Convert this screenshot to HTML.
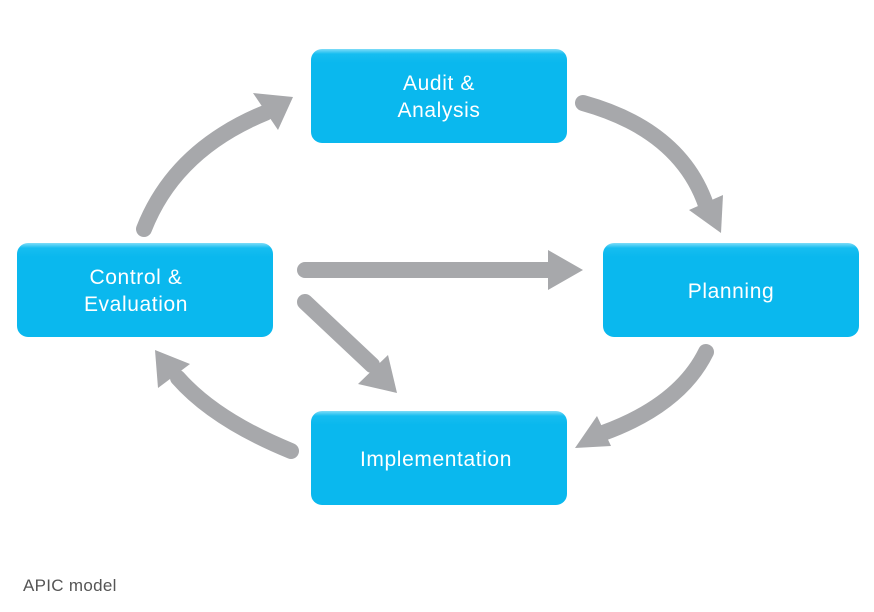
<!DOCTYPE html>
<html><head><style>
body{margin:0;width:874px;height:612px;background:#fff;position:relative;overflow:hidden;font-family:"Liberation Sans",sans-serif}
.bx{position:absolute;width:256px;height:94px;border-radius:11px;background:linear-gradient(#7fdcf8 0,#16bdf0 5px,#0ab8ee 14px,#0ab8ee 100%)}
.t{position:absolute;width:256px;height:94px;color:#fff;font-size:21px;letter-spacing:0.6px;line-height:27px;display:flex;align-items:center;justify-content:center;text-align:center}
.cap{position:absolute;left:23px;top:576px;font-size:17px;letter-spacing:0.3px;color:#555}
</style></head><body>
<svg width="874" height="612" style="position:absolute;left:0;top:0">
<g fill="none" stroke="#a7a8ab" stroke-width="16" stroke-linecap="round">
<path d="M144 229 Q175 150 265 113"/>
<path d="M583 103 Q680 130 706 205"/>
<path d="M305 270 L552 270"/>
<path d="M305 302 L372 365"/>
<path d="M706 352 Q680 405 603 433"/>
<path d="M291 451 Q215 420 178 378"/>
</g>
<g fill="#a7a8ab">
<polygon points="293,97 253,93 278,130"/>
<polygon points="721,233 689,210 723,195"/>
<polygon points="583,270 548,250 548,290"/>
<polygon points="397,393 358,384 388,355"/>
<polygon points="575,448 597,416 611,446"/>
<polygon points="155,350 158,388 190,364"/>
</g>
</svg>
<div class="bx" style="left:311px;top:49px"></div>
<div class="bx" style="left:17px;top:243px"></div>
<div class="bx" style="left:603px;top:243px"></div>
<div class="bx" style="left:311px;top:411px"></div>
<div class="t" style="left:311px;top:50px">Audit &amp;<br>Analysis</div>
<div class="t" style="left:8px;top:244px">Control &amp;<br>Evaluation</div>
<div class="t" style="left:603px;top:244px">Planning</div>
<div class="t" style="left:308px;top:412px">Implementation</div>
<div class="cap">APIC model</div>
</body></html>
